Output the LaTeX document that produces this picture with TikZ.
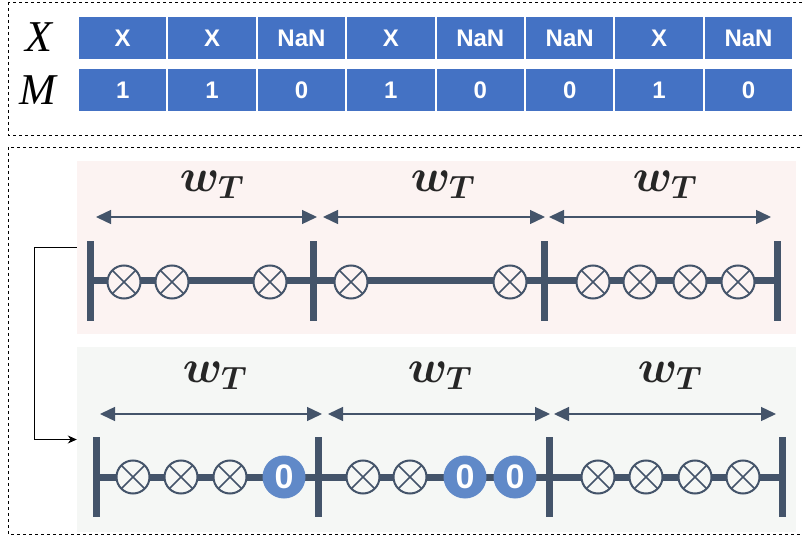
\documentclass[tikz,border=0pt]{standalone}
\usepackage{fix-cm}
\usepackage{fontspec}
\setmainfont{Liberation Sans}
\newfontfamily\rowfont{Liberation Serif}
\usetikzlibrary{arrows.meta}

\definecolor{cellblue}{HTML}{4472C4}
\definecolor{zeroblue}{HTML}{6089C8}
\definecolor{slate}{HTML}{44546A}
\definecolor{pinkbg}{HTML}{FCF3F2}
\definecolor{greybg}{HTML}{F5F7F5}

\begin{document}
\begin{tikzpicture}[x=1pt,y=-1pt,
    cell/.style={fill=cellblue, text=white, minimum width=87.4pt, minimum height=42pt, inner sep=0pt, font=\fontsize{24}{26}\selectfont\bfseries},
    rowlabel/.style={font=\fontsize{44}{48}\selectfont\rowfont\itshape},
    panel/.style={inner sep=0pt, minimum width=719pt},
    bar/.style={fill=slate, minimum width=7pt, minimum height=80pt, inner sep=0pt},
    rail/.style={draw=slate, line width=7pt},
    slot/.style={circle, draw=slate, line width=2pt, fill=#1, minimum size=33pt, inner sep=0pt,
        path picture={\draw[slate, line width=1.6pt]
            (path picture bounding box.north west) -- (path picture bounding box.south east)
            (path picture bounding box.north east) -- (path picture bounding box.south west);}},
    zero/.style={circle, fill=zeroblue, minimum size=43pt, inner sep=0pt, text=white, font=\fontsize{34}{36}\selectfont\bfseries},
    wspan/.style={draw=slate, line width=1.4pt, {Triangle[length=15pt,width=14pt]}-{Triangle[length=15pt,width=14pt]}},
    wlabel/.style={font=\fontsize{46}{50}\selectfont\boldmath, text=black!85},
    frame/.style={draw, line width=0.9pt, dash pattern=on 3pt off 3pt},
    link/.style={draw, line width=1pt, -{Stealth[length=9pt,width=8pt]}}
]
\useasboundingbox (0,0) rectangle (803,537);

% dashed frames
\draw[frame] (8,2) rectangle (806,135);
\draw[frame] (8,147) rectangle (806,534);

% data row and mask row
\node[rowlabel] (xlab) at (39,37) {X};
\node[rowlabel] (mlab) at (38,90) {M};
\foreach \t/\m [count=\i] in {X/1,X/1,NaN/0,X/1,NaN/0,NaN/0,X/1,NaN/0} {
    \node[cell] (x\i) at ({122.7+(\i-1)*89.4},38) {\t};
    \node[cell] (m\i) at ({122.7+(\i-1)*89.4},90) {\m};
}

% windows before filling
\node[panel, fill=pinkbg, minimum height=173pt] (top) at (436.5,247.5) {};
\foreach \x [count=\i] in {90,313,544,777}
    \node[bar] (a\i) at (\x,281) {};
\draw[rail] (a1.center) -- (a4.center);
\foreach \x [count=\i] in {124,172,270,351,510,593,640,690,738}
    \node[slot=pinkbg] (p\i) at (\x,282) {};
\foreach \l/\r/\c in {96/317/212,323/545/443,549/771/665} {
    \coordinate (sl) at (\l,217);
    \coordinate (sr) at (\r,217);
    \draw[wspan] (sl) -- (sr);
    \node[wlabel] at (\c,185) {$w_T$};
}

% windows after filling
\node[panel, fill=greybg, minimum height=185pt] (bot) at (436.5,439.5) {};
\foreach \x [count=\i] in {96,318,549,782}
    \node[bar] (b\i) at (\x,477) {};
\draw[rail] (b1.center) -- (b4.center);
\foreach \x [count=\i] in {133,181,230,363,410,598,646,695,743}
    \node[slot=greybg] (q\i) at (\x,477) {};
\foreach \x [count=\i] in {284,465,515}
    \node[zero] (z\i) at (\x,477) {0};
\foreach \l/\r/\c in {100/322/215,328/550/440,554/776/670} {
    \coordinate (sl) at (\l,414);
    \coordinate (sr) at (\r,414);
    \draw[wspan] (sl) -- (sr);
    \node[wlabel] at (\c,376) {$w_T$};
}

\draw[link] (top.west) -- ++(-42,0) |- (bot.west);
\end{tikzpicture}
\end{document}
